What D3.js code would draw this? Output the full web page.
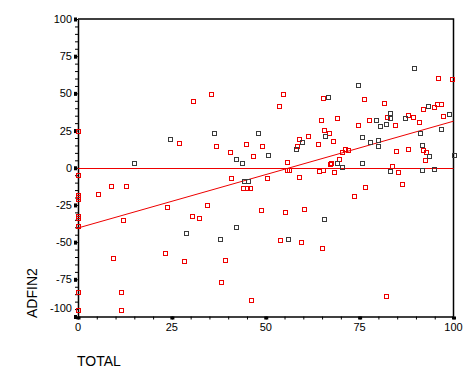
<!DOCTYPE html>
<html>
<head>
<meta charset="utf-8">
<script src="https://cdn.jsdelivr.net/npm/d3@7"></script>
<style>
  body{ margin:0; background:#fff; }
  svg{ display:block; font-family: Arial, "Liberation Sans", sans-serif; }
  .tick-label{ font-size:11px; fill:#000; }
  .axis-title{ font-size:14px; fill:#000; }
  .marker{ shape-rendering: crispEdges; }
</style>
</head>
<body>
<svg id="chart" width="473" height="379"></svg>
<script>
// ============= Data =============
// TOTAL / ADFIN2 pairs, red markers
const totalRed = [0, 0, 0, 0, 0, 0, 0, 0, 0, 0,
  26.9, 30.6, 35.4, 54.5, 53.4, 65.2, 64.6, 65.6,
  36.7, 44.7, 48.9, 58.8, 61.2, 58.2, 63.8, 40.4, 46.5, 55.6, 55.6, 56.1, 64.1, 65.2, 67, 40.7, 50.3, 58.8,
  95.8, 99.5, 76.1, 81.4, 91.8, 94.9, 95.5, 96.8, 68.9, 77.4, 82.2, 84.3, 88, 89.1, 90.7, 97.3, 74.7, 66.8,
  67.8, 92, 92.8, 92.3, 84.8, 88, 71, 71.8, 70.2, 69.4, 67.3, 83.5, 85.1, 68.1,
  5.3, 8.8, 12.8, 12, 23.7, 30.3, 32.2, 23.1, 9.3, 28.3, 11.4, 11.4,
  44, 44.9, 45.8, 34.3, 48.7, 55.1, 60.3, 53.7, 59.3, 64.9, 39.1, 38, 46,
  86.2, 73.4, 76.3, 81.9];
const adfinRed = [24.6, -4.8, -18.4, -19.9, -21.2, -32.2, -33.8, -39, -83.6, -95.3,
  16.5, 45.2, 49.5, 49.5, 41.4, 46.8, 32, 25.3,
  14.5, 15.8, 14.5, 19.2, 21.2, 14.5, 15.8, 10.4, 7.7, 3.7, -1.3, -1.3, -2, -1.3, 2.8, -6.7, -6.7, -6.4,
  60.3, 59.6, 45.9, 43.8, 39.4, 40.7, 42.8, 42.8, 33.3, 32, 34, 28.6, 35.4, 34, 30.6, 34.7, 28.6, 23.2,
  17.8, 11.8, 10.4, 5, 11.1, 12.5, 12.5, 11.8, 10.4, 5.7, 3, 1, -3, -3,
  -17.6, -12.3, -12.3, -35.4, -26.4, -32.7, -34, -57.4, -61, -63, -83.8, -95.3,
  -13.6, -13.6, -13.6, -25.3, -28.6, -30, -27.9, -48.8, -50.2, -54.2, -62.3, -77.1, -88.6,
  -11.1, -19.2, -13.1, -85.9];

// dark grey markers
const totalGrey = [14.9, 24.4, 66.5, 65.9, 36.2, 47.9, 59.6, 58, 42, 43.6, 50.5,
  74.5, 89.4, 93.1, 79.3, 83, 83, 80.3, 81.9, 87.2, 98.9, 75.5, 77.7, 79.8, 79.8, 91, 96.6, 91.5, 93.6, 100,
  69.1, 70.2, 75.5, 83, 91.5, 94.7,
  28.7, 44.1, 45.2, 42, 37.8, 65.4, 55.9];
const adfinGrey = [3, 19.2, 47.5, 21.2, 23.2, 23.2, 17.2, 12.5, 5.7, 3, 8.4,
  55.6, 67, 41.4, 32, 36.7, 33.3, 27.9, 29.3, 33.3, 36, 20.5, 17.2, 18.5, 14.5, 23.2, 25.9, 15.2, 7.7, 8.4,
  3, 0.3, 3, -2, -1.3, -0.6,
  -44.1, -9.1, -9.1, -40.1, -48.1, -34.7, -48.1];

// fit line ends as drawn (TOTAL 0 -> 100)
const fitTotal = [0, 100];
const fitAdfin = [-40.5, 31.3];

// axis ticks
const xTicks = [0, 25, 50, 75, 100];
const yTicks = [-100, -75, -50, -25, 0, 25, 50, 75, 100];
const xMinor = d3.range(0, 101, 5);
const yMinor = d3.range(-100, 101, 5);

// ============= Scales =============
const svg = d3.select('#chart');

const x = d3.scaleLinear().domain([0, 100]).range([78, 453.5]);
const y = d3.scaleLinear().domain([-100, 100]).range([316.5, 19]);

const red = '#ee0000',
      grey = '#3a3a3a',
      markerSize = 4;

// ============= Frame =============
// top and right edge of the plot area
svg.append('path')
  .attr('d', 'M' + x(0) + ',' + y(100) + 'H' + x(100) + 'V' + y(-100))
  .attr('fill', 'none')
  .attr('stroke', '#000')
  .attr('stroke-width', 1.5);

// ============= Axes =============
// minor ticks, no labels
svg.append('g')
  .attr('transform', 'translate(0,' + y(-100) + ')')
  .call(d3.axisBottom(x).tickValues(xMinor).tickSize(3).tickSizeOuter(0).tickFormat(''))
  .call(g => g.select('.domain').attr('stroke-width', 1.5));

svg.append('g')
  .attr('transform', 'translate(' + x(0) + ',0)')
  .call(d3.axisLeft(y).tickValues(yMinor).tickSize(3).tickSizeOuter(0).tickFormat(''))
  .call(g => g.select('.domain').attr('stroke-width', 1.5));

// major ticks are small filled squares
svg.append('g')
  .selectAll('rect')
  .data(xTicks)
  .enter()
  .append('rect')
  .attr('x', d => x(d) - 1.5)
  .attr('y', y(-100))
  .attr('width', 4)
  .attr('height', 3)
  .attr('fill', '#000');

svg.append('g')
  .selectAll('rect')
  .data(yTicks)
  .enter()
  .append('rect')
  .attr('x', x(0) - 4)
  .attr('y', d => y(d) - 1.5)
  .attr('width', 3)
  .attr('height', 4)
  .attr('fill', '#000');

// tick labels
svg.append('g')
  .selectAll('text')
  .data(xTicks)
  .enter()
  .append('text')
  .attr('class', 'tick-label')
  .attr('x', d => x(d))
  .attr('y', 331)
  .attr('text-anchor', 'middle')
  .text(d => d);

svg.append('g')
  .selectAll('text')
  .data(yTicks)
  .enter()
  .append('text')
  .attr('class', 'tick-label')
  .attr('x', 72)
  // the bottom label sits a little higher, clear of the x labels
  .attr('y', d => y(d) + (d === -100 ? -8 : 0))
  .attr('dy', '0.36em')
  .attr('text-anchor', 'end')
  .text(d => d);

// axis titles
svg.append('text')
  .attr('class', 'axis-title')
  .attr('x', 77)
  .attr('y', 366)
  .text('TOTAL');

svg.append('text')
  .attr('class', 'axis-title')
  .attr('transform', 'translate(37,318) rotate(-90)')
  .text('ADFIN2');

// ============= Reference lines =============
svg.append('line')
  .attr('x1', x(0))
  .attr('x2', x(100))
  .attr('y1', Math.round(y(0)) + 0.5)
  .attr('y2', Math.round(y(0)) + 0.5)
  .attr('stroke', red)
  .attr('stroke-width', 1);

svg.append('line')
  .attr('x1', x(fitTotal[0]))
  .attr('x2', x(fitTotal[1]))
  .attr('y1', y(fitAdfin[0]))
  .attr('y2', y(fitAdfin[1]))
  .attr('stroke', red)
  .attr('stroke-width', 1);

// ============= Markers =============
// 5px open squares snapped to the pixel grid
function drawMarkers(xs, ys, colour){
  svg.append('g')
    .selectAll('rect')
    .data(d3.zip(xs, ys))
    .enter()
    .append('rect')
    .attr('class', 'marker')
    .attr('x', d => Math.round(x(d[0])) - markerSize/2 + 0.5)
    .attr('y', d => Math.round(y(d[1])) - markerSize/2 + 0.5)
    .attr('width', markerSize)
    .attr('height', markerSize)
    .attr('fill', 'none')
    .attr('stroke', colour)
    .attr('stroke-width', 1);
}

drawMarkers(totalRed, adfinRed, red);
drawMarkers(totalGrey, adfinGrey, grey);
</script>
</body>
</html>
